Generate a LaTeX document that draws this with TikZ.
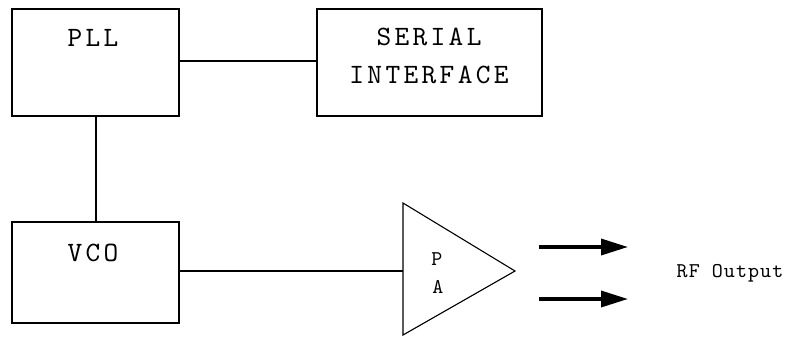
\documentclass[tikz,border=0pt]{standalone}
\usepackage{fontspec}
\usetikzlibrary{arrows.meta}
\newfontfamily\bigttfam{lmmono10-regular.otf}[LetterSpace=12]
\newfontfamily\smallttfam{lmmono10-regular.otf}[LetterSpace=5]
\begin{document}
\begin{tikzpicture}[x=1pt,y=-1pt,
  block/.style={draw,line width=2pt,rectangle,inner sep=0pt},
  bigtxt/.style={anchor=base,inner sep=0pt,font=\bigttfam\fontsize{28}{32}\selectfont},
  smalltxt/.style={anchor=base,inner sep=0pt,font=\smallttfam\fontsize{21}{24}\selectfont},
  wire/.style={line width=1.6pt},
  outarrow/.style={line width=3.5pt,-{Triangle[length=27pt,width=16pt]}}]
\useasboundingbox (0,0) rectangle (792,346);
\fill[white] (0,0) rectangle (792,346);
% blocks
\node[block,minimum width=167pt,minimum height=107pt] (pll) at (95.5,62) {};
\node[block,minimum width=225pt,minimum height=107pt] (ser) at (429.5,62.5) {};
\node[block,minimum width=167pt,minimum height=101pt] (vco) at (95.5,272.5) {};
% texts
\node[bigtxt] (pllt) at (93,46) {PLL};
\node[bigtxt] (sert1) at (429,45) {SERIAL};
\node[bigtxt] (sert2) at (429,83) {INTERFACE};
\node[bigtxt] (vcot) at (93,261) {VCO};
% PA triangle
\coordinate (patop) at (403,203);
\coordinate (pabot) at (403,335);
\coordinate (patip) at (515,271);
\coordinate (pain) at (403,271);
\draw[line width=1.1pt,line join=miter] (patop) -- (patip) -- (pabot) -- cycle;
\node[smalltxt] (pap) at (437,265) {P};
\node[smalltxt] (paa) at (438,293) {A};
% connectors
\draw[wire] (pll.east |- 0,61) -- (ser.west |- 0,61);
\draw[wire] (pll.south -| 96,0) -- (vco.north -| 96,0);
\draw[wire] (vco.east |- pain) -- (pain);
% outputs
\coordinate (o1s) at (539,247);
\coordinate (o1e) at (628,247);
\coordinate (o2s) at (539,299);
\coordinate (o2e) at (628,299);
\draw[outarrow] (o1s) -- (o1e);
\draw[outarrow] (o2s) -- (o2e);
\node[smalltxt] (rf) at (730,277) {RF Output};
\end{tikzpicture}
\end{document}
